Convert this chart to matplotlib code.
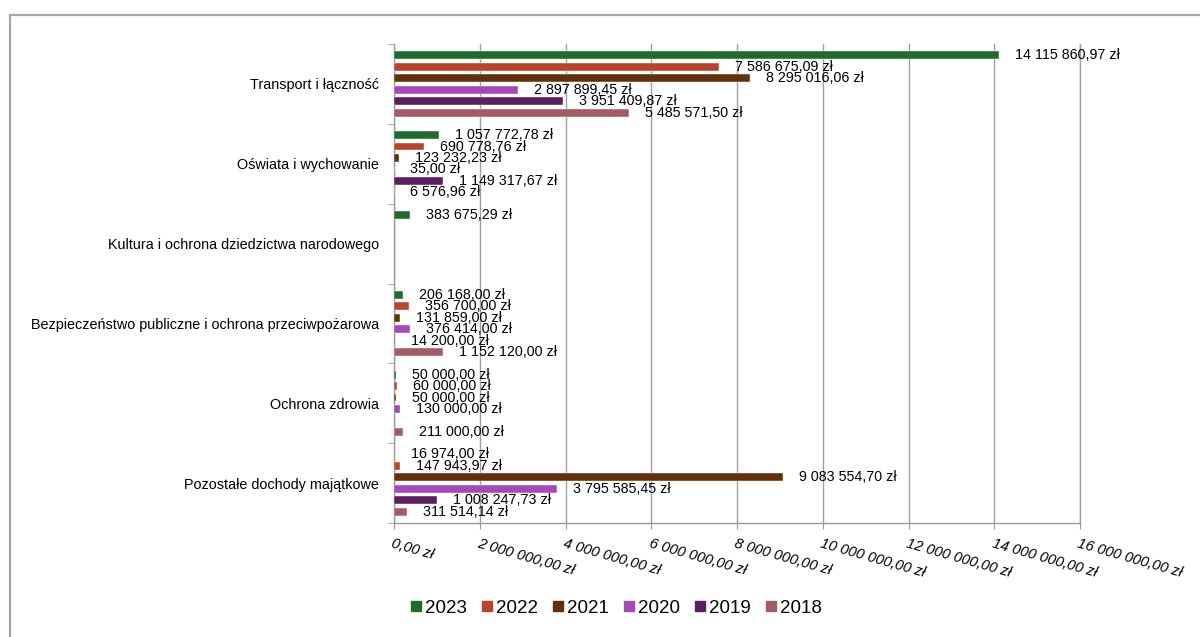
import numpy as np
import matplotlib
matplotlib.use("Agg")
import matplotlib.pyplot as plt
from matplotlib.lines import Line2D
from matplotlib.ticker import FuncFormatter, FixedLocator

plt.rcParams['font.family'] = ['Liberation Sans', 'DejaVu Sans']

categories = [
    'Transport i łączność',
    'Oświata i wychowanie',
    'Kultura i ochrona dziedzictwa narodowego',
    'Bezpieczeństwo publiczne i ochrona przeciwpożarowa',
    'Ochrona zdrowia',
    'Pozostałe dochody majątkowe',
]
years = ['2023', '2022', '2021', '2020', '2019', '2018']
nan = np.nan
v2023 = [14115860.97, 1057772.78, 383675.29, 206168.00, 50000.00, 16974.00]
v2022 = [7586675.09, 690778.76, nan, 356700.00, 60000.00, 147943.97]
v2021 = [8295016.06, 123232.23, nan, 131859.00, 50000.00, 9083554.70]
v2020 = [2897899.45, 35.00, nan, 376414.00, 130000.00, 3795585.45]
v2019 = [3951409.87, 1149317.67, nan, 14200.00, nan, 1008247.73]
v2018 = [5485571.50, 6576.96, nan, 1152120.00, 211000.00, 311514.14]
series = [v2023, v2022, v2021, v2020, v2019, v2018]
colors = ['#1E6B2D', '#B8442A', '#64300A', '#A548B8', '#5B1F62', '#A35B66']


def pln(v):
    s = f"{v:,.2f}".replace(',', ' ').replace('.', ',')
    return s + ' zł'


fig = plt.figure(figsize=(12, 6.37), dpi=100)
fig.patch.set_facecolor('white')

# outer chart frame (only left and top edges visible)
frame_col = '#A6A6A6'
fig.add_artist(Line2D([10 / 1200, 10 / 1200], [0, 1 - 15 / 637],
                      color=frame_col, lw=1.6, transform=fig.transFigure))
fig.add_artist(Line2D([10 / 1200, 1], [1 - 15 / 637, 1 - 15 / 637],
                      color=frame_col, lw=1.6, transform=fig.transFigure))

ax = fig.add_axes([394 / 1200, 1 - 523 / 637, 686 / 1200, 479 / 637])

slot = 0.144
bar_h = 0.1
idx = np.arange(len(categories))
for k, (vals, col, yr) in enumerate(zip(series, colors, years)):
    vals = np.array(vals, dtype=float)
    ypos = idx + (k - 2.5) * slot
    ok = ~np.isnan(vals)
    bars = ax.barh(ypos[ok], vals[ok], height=bar_h, color=col,
                   edgecolor='white', linewidth=0.3, label=yr, zorder=3)
    ax.bar_label(bars, labels=[pln(v) for v in vals[ok]], padding=11.5,
                 fontsize=10.3, color='black', zorder=4)

ax.set_xlim(0, 16000000)
ax.set_ylim(5.5, -0.5)

ax.xaxis.set_major_locator(FixedLocator(np.arange(0, 16000001, 2000000)))
ax.xaxis.set_major_formatter(FuncFormatter(lambda v, p: pln(v)))
ax.grid(axis='x', color='#A0A0A0', lw=1.0, zorder=0)
# last gridline sits on the axes edge, draw it unclipped
ax.axvline(16000000, color='#A0A0A0', lw=1.0, zorder=0, clip_on=False)
ax.tick_params(axis='x', direction='out', length=4, color='#999999',
               labelsize=10.5, pad=6)
for lab in ax.get_xticklabels():
    lab.set_rotation(-16)
    lab.set_ha('left')
    lab.set_va('top')
    lab.set_rotation_mode('anchor')
    lab.set_style('italic')

ax.set_yticks(idx)
ax.set_yticklabels(categories, fontsize=10.4)
ax.yaxis.set_minor_locator(FixedLocator(np.arange(-0.5, 6.0, 1.0)))
ax.tick_params(axis='y', which='major', length=0, pad=11)
ax.tick_params(axis='y', which='minor', direction='out', length=4, color='#999999')

for s in ['top', 'right']:
    ax.spines[s].set_visible(False)
for s in ['left', 'bottom']:
    ax.spines[s].set_color('#999999')
    ax.spines[s].set_linewidth(1.0)

handles = [Line2D([0], [0], marker='s', color='none', markerfacecolor=c,
                  markeredgecolor=c, markersize=7) for c in colors]
fig.legend(handles, years, loc='center', bbox_to_anchor=(616 / 1200, 1 - 608 / 637),
           ncol=6, frameon=False, fontsize=13.5, handlelength=0.6,
           handletextpad=0.2, columnspacing=0.75)

fig.savefig('out.png', dpi=100, facecolor='white')
